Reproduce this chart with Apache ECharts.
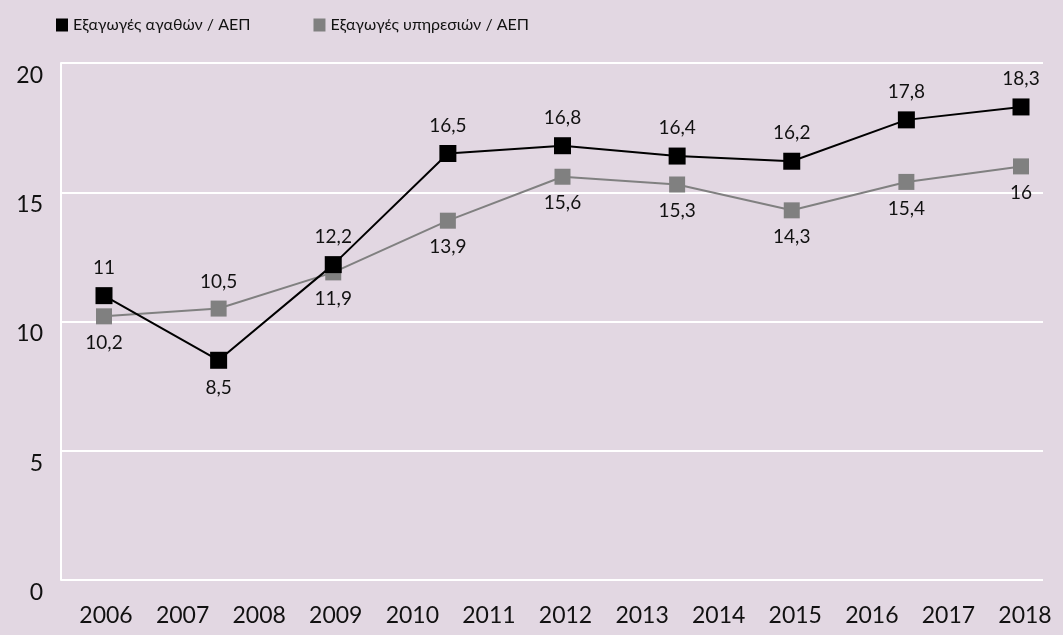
<!DOCTYPE html>
<head>
    <meta charset="utf-8">
    <title>Εξαγωγές / ΑΕΠ</title>
</head>
<body style="margin:0;background:#e2d7e2;">
    <script type="text/javascript" src="https://cdn.jsdelivr.net/npm/echarts@6/dist/echarts.min.js"></script>

    <div id="main" style="width: 1063px;height:635px;"></div>

    <script type="text/javascript">
        // άξονας x: ετικέτες ετών
        var years = ['2006','2007','2008','2009','2010','2011','2012','2013','2014','2015','2016','2017','2018'];
        // σειρές δεδομένων
        var goods = [11, 8.5, 12.2, 16.5, 16.8, 16.4, 16.2, 17.8, 18.3];
        var services = [10.2, 10.5, 11.9, 13.9, 15.6, 15.3, 14.3, 15.4, 16];
        // θέση ετικετών τιμών
        var goodsPos = ['top','bottom','top','top','top','top','top','top','top'];
        var servicesPos = ['bottom','top','bottom','bottom','bottom','bottom','bottom','bottom','bottom'];
        var yTicks = [0, 5, 10, 15, 20];

        var FONT = 'Lato';
        var points = goods.map(function (v, i) { return String(i); });

        function withLabels(vals, pos) {
            return vals.map(function (v, i) {
                return { value: v, label: { position: pos[i] } };
            });
        }
        function comma(p) { return String(p.value).replace('.', ','); }

        var myChart = echarts.init(document.getElementById('main'));
        myChart.setOption({
            backgroundColor: '#e2d7e2',
            textStyle: { fontFamily: FONT },
            legend: {
                left: 51,
                top: 12,
                itemGap: 63,
                itemWidth: 12,
                itemHeight: 13,
                textStyle: { fontFamily: FONT, fontSize: 16, color: '#111' },
                data: [
                    { name: 'Εξαγωγές αγαθών / ΑΕΠ', icon: 'rect' },
                    { name: 'Εξαγωγές υπηρεσιών / ΑΕΠ', icon: 'rect' }
                ]
            },
            grid: [
                { left: 61, right: 20, top: 63, bottom: 55 },   // πλαίσιο
                { left: 104, right: 42, top: 63, bottom: 55 },  // σημεία
                { left: 106, right: 38, top: 63, bottom: 55 }   // ετικέτες ετών
            ],
            xAxis: [
                { gridIndex: 0, type: 'value', show: false, min: 0, max: 1 },
                { gridIndex: 1, type: 'category', show: false, boundaryGap: false, data: points },
                {
                    gridIndex: 2, type: 'category', boundaryGap: false, data: years,
                    axisLine: { show: false }, axisTick: { show: false },
                    axisLabel: { margin: 24, fontSize: 23, color: '#111', fontFamily: FONT, interval: 0 }
                }
            ],
            yAxis: [
                {
                    gridIndex: 0, type: 'value', min: yTicks[0], max: yTicks[yTicks.length - 1], interval: 5,
                    axisLine: { show: true, lineStyle: { color: '#fff', width: 2 } },
                    axisTick: { show: false },
                    splitLine: { lineStyle: { color: '#fff', width: 2 } },
                    axisLabel: { margin: 18, fontSize: 23, color: '#111', fontFamily: FONT, verticalAlign: 'top', padding: [1, 0, 0, 0] }
                },
                { gridIndex: 1, type: 'value', min: 0, max: 20, show: false },
                { gridIndex: 2, type: 'value', min: 0, max: 20, show: false }
            ],
            series: [
                {
                    name: 'Εξαγωγές αγαθών / ΑΕΠ',
                    type: 'line',
                    xAxisIndex: 1, yAxisIndex: 1,
                    data: withLabels(goods, goodsPos),
                    symbol: 'rect', symbolSize: 17,
                    itemStyle: { color: '#000' },
                    lineStyle: { color: '#000', width: 2 },
                    label: { show: true, distance: 10, fontSize: 19, color: '#111', fontFamily: FONT, formatter: comma },
                    z: 3
                },
                {
                    name: 'Εξαγωγές υπηρεσιών / ΑΕΠ',
                    type: 'line',
                    xAxisIndex: 1, yAxisIndex: 1,
                    data: withLabels(services, servicesPos),
                    symbol: 'rect', symbolSize: 16,
                    itemStyle: { color: '#808080' },
                    lineStyle: { color: '#808080', width: 2 },
                    label: { show: true, distance: 9, fontSize: 19, color: '#111', fontFamily: FONT, formatter: comma },
                    z: 2
                }
            ]
        });
    </script>
</body>
